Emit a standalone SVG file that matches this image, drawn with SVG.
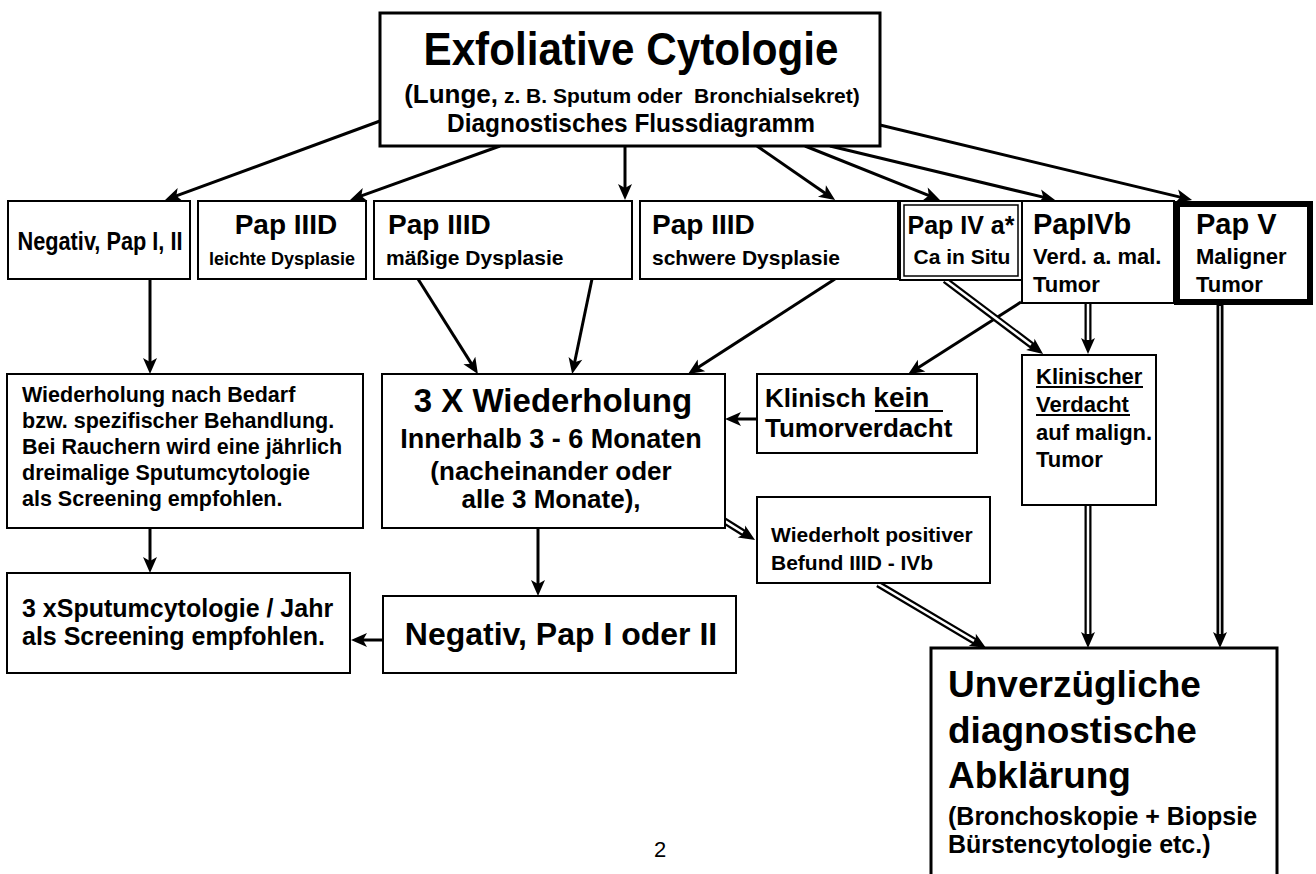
<svg xmlns="http://www.w3.org/2000/svg" width="1316" height="874" viewBox="0 0 1316 874">
<style>
.box{fill:#fff;stroke:#000;stroke-width:2}
.t{font-family:"Liberation Sans",Arial,sans-serif;font-weight:bold;fill:#000}
.m{text-anchor:middle}
.arr{stroke:#000;stroke-width:3;fill:none;marker-end:url(#ah)}
.dbl{stroke:#000;stroke-width:7;fill:none;marker-end:url(#ah)}
.dblw{stroke:#fff;stroke-width:2.5;fill:none}
.ul{stroke:#000;stroke-width:2}
</style>
<defs>
<marker id="ah" markerUnits="userSpaceOnUse" markerWidth="16" markerHeight="14" refX="7" refY="7" orient="auto" overflow="visible">
<path d="M0,0 L16,7 L0,14 L4,7 Z" fill="#000"/>
</marker>
</defs>
<rect width="1316" height="874" fill="#fff"/>

<g id="connectors">
<line class="arr" x1="380" y1="121" x2="173.5" y2="196.9"/>
<line class="arr" x1="500" y1="146" x2="358.5" y2="196.9"/>
<line class="arr" x1="625" y1="146" x2="625" y2="191"/>
<line class="arr" x1="757" y1="146" x2="827.7" y2="194.9"/>
<line class="arr" x1="805" y1="146" x2="931.6" y2="196.6"/>
<line class="arr" x1="830" y1="146" x2="1046.3" y2="197.9"/>
<line class="arr" x1="880" y1="125" x2="1183.3" y2="197.9"/>
<line class="arr" x1="150" y1="279" x2="150" y2="365"/>
<line class="arr" x1="418" y1="279" x2="473.1" y2="366.4"/>
<line class="arr" x1="592" y1="279" x2="574" y2="365.2"/>
<line class="arr" x1="835" y1="279" x2="695.6" y2="369.1"/>
<line class="arr" x1="1021" y1="302" x2="915.7" y2="369.3"/>
<line class="arr" x1="757" y1="419" x2="734" y2="419"/>
<line class="arr" x1="150" y1="528" x2="150" y2="564"/>
<line class="arr" x1="538" y1="528" x2="538" y2="587"/>
<line class="arr" x1="383" y1="640" x2="360" y2="640"/>
<line class="dbl" x1="945" y1="280" x2="1035.9" y2="348.5"/>
<line class="dblw" x1="945" y1="280" x2="1031" y2="344.7"/>
<line class="dbl" x1="1088" y1="303" x2="1088" y2="345"/>
<line class="dblw" x1="1088" y1="304" x2="1088" y2="340"/>
<line class="dbl" x1="1088" y1="505" x2="1088" y2="639"/>
<line class="dblw" x1="1088" y1="506" x2="1088" y2="634"/>
<line class="dbl" x1="1220" y1="305" x2="1220" y2="639"/>
<line class="dblw" x1="1220" y1="306" x2="1220" y2="634" style="stroke-width:1.5"/>
<line class="dbl" x1="723" y1="520" x2="747.4" y2="535.2"/>
<line class="dblw" x1="724" y1="520.6" x2="743" y2="532.5"/>
<line class="dbl" x1="878" y1="584" x2="978.3" y2="643.4"/>
<line class="dblw" x1="878" y1="584" x2="974" y2="640.9"/>
</g>

<g id="top">
<rect class="box" x="380" y="13" width="500" height="133" style="stroke-width:3"/>
<text class="t m" x="631" y="65" font-size="46" textLength="415" lengthAdjust="spacingAndGlyphs">Exfoliative Cytologie</text>
<text class="t m" x="632" y="103" xml:space="preserve"><tspan font-size="26">(Lunge,</tspan><tspan font-size="21"> z. B. Sputum oder  Bronchialsekret)</tspan></text>
<text class="t m" x="631" y="132" font-size="26" textLength="368" lengthAdjust="spacingAndGlyphs">Diagnostisches Flussdiagramm</text>
</g>

<g id="negativ1">
<rect class="box" x="8" y="201" width="182" height="78"/>
<text class="t m" x="100" y="250" font-size="25" textLength="165" lengthAdjust="spacingAndGlyphs">Negativ, Pap I, II</text>
</g>
<g id="leicht">
<rect class="box" x="198" y="201" width="168" height="78"/>
<text class="t m" x="286" y="234" font-size="28">Pap IIID</text>
<text class="t m" x="282" y="265" font-size="18">leichte Dysplasie</text>
</g>
<g id="maessig">
<rect class="box" x="374" y="201" width="258" height="78"/>
<text class="t" x="388" y="234" font-size="28">Pap IIID</text>
<text class="t" x="386" y="265" font-size="21">mäßige Dysplasie</text>
</g>
<g id="schwer">
<rect class="box" x="640" y="201" width="258" height="78"/>
<text class="t" x="652" y="234" font-size="28">Pap IIID</text>
<text class="t" x="652" y="265" font-size="21">schwere Dysplasie</text>
</g>
<g id="papIVa">
<rect class="box" x="900" y="201" width="122" height="79"/>
<rect x="904" y="205" width="114" height="71" fill="none" stroke="#000" stroke-width="1.5"/>
<text class="t m" x="961" y="234" font-size="25">Pap IV a*</text>
<text class="t m" x="962" y="264" font-size="21">Ca in Situ</text>
</g>
<g id="papIVb">
<rect class="box" x="1022" y="201" width="152" height="102"/>
<text class="t" x="1033" y="234" font-size="29">PapIVb</text>
<text class="t" x="1033" y="264" font-size="22">Verd. a. mal.</text>
<text class="t" x="1033" y="292" font-size="22">Tumor</text>
</g>
<g id="papV">
<rect class="box" x="1177" y="204" width="133" height="98" style="stroke-width:6"/>
<text class="t" x="1196" y="234" font-size="29">Pap V</text>
<text class="t" x="1196" y="264" font-size="22">Maligner</text>
<text class="t" x="1196" y="292" font-size="22">Tumor</text>
</g>

<g id="wiederholung">
<rect class="box" x="7" y="374" width="356" height="154"/>
<text class="t" x="22" y="402" font-size="21.5">Wiederholung nach Bedarf</text>
<text class="t" x="22" y="428" font-size="21.5">bzw. spezifischer Behandlung.</text>
<text class="t" x="22" y="454" font-size="21.5">Bei Rauchern wird eine jährlich</text>
<text class="t" x="22" y="480" font-size="21.5">dreimalige Sputumcytologie</text>
<text class="t" x="22" y="506" font-size="21.5">als Screening empfohlen.</text>
</g>
<g id="dreiX">
<rect class="box" x="382" y="374" width="343" height="154"/>
<text class="t m" x="553" y="412" font-size="33">3 X Wiederholung</text>
<text class="t m" x="551" y="448" font-size="27">Innerhalb 3 - 6 Monaten</text>
<text class="t m" x="551" y="480" font-size="26">(nacheinander oder</text>
<text class="t m" x="551" y="508" font-size="26">alle 3 Monate),</text>
</g>
<g id="klinischKein">
<rect class="box" x="757" y="374" width="220" height="79"/>
<text class="t" x="765" y="407" xml:space="preserve"><tspan font-size="26">Klinisch </tspan><tspan font-size="28">kein</tspan></text>
<line class="ul" x1="875" y1="411" x2="943" y2="411"/>
<text class="t" x="765" y="437" font-size="26">Tumorverdacht</text>
</g>
<g id="klinischerVerdacht">
<rect class="box" x="1022" y="355" width="134" height="150"/>
<text class="t" x="1036" y="384" font-size="22">Klinischer</text>
<line class="ul" x1="1036" y1="387" x2="1143" y2="387"/>
<text class="t" x="1036" y="412" font-size="22">Verdacht</text>
<line class="ul" x1="1036" y1="415" x2="1130" y2="415"/>
<text class="t" x="1036" y="440" font-size="22">auf malign.</text>
<text class="t" x="1036" y="467" font-size="22">Tumor</text>
</g>
<g id="wiederholtPositiv">
<rect class="box" x="757" y="497" width="233" height="86"/>
<text class="t" x="771" y="542" font-size="21">Wiederholt positiver</text>
<text class="t" x="771" y="570" font-size="21">Befund IIID - IVb</text>
</g>
<g id="sputumJahr">
<rect class="box" x="7" y="573" width="343" height="100"/>
<text class="t" x="22" y="617" font-size="25">3 xSputumcytologie / Jahr</text>
<text class="t" x="22" y="645" font-size="25">als Screening empfohlen.</text>
</g>
<g id="negativ2">
<rect class="box" x="383" y="596" width="353" height="77"/>
<text class="t m" x="561" y="645" font-size="32">Negativ, Pap I oder II</text>
</g>
<g id="abklaerung">
<rect class="box" x="931" y="648" width="346" height="240" style="stroke-width:3"/>
<text class="t" x="948" y="697" font-size="37">Unverzügliche</text>
<text class="t" x="948" y="743" font-size="37">diagnostische</text>
<text class="t" x="948" y="788" font-size="37">Abklärung</text>
<text class="t" x="948" y="825" font-size="25">(Bronchoskopie + Biopsie</text>
<text class="t" x="948" y="853" font-size="25">Bürstencytologie etc.)</text>
</g>
<text x="660" y="857" font-family="Liberation Sans, Arial, sans-serif" font-size="22" text-anchor="middle">2</text>
</svg>
